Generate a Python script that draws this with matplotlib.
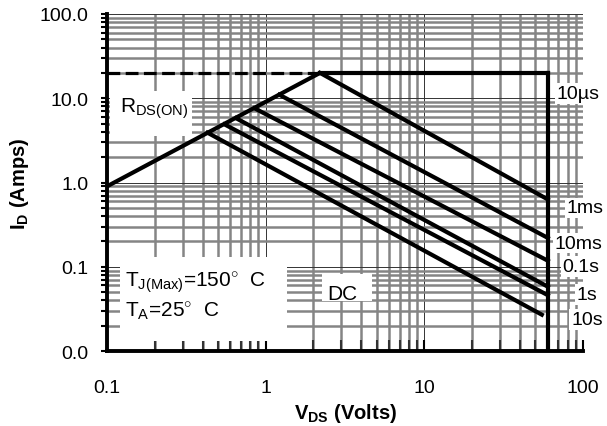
import matplotlib
matplotlib.use("Agg")
import matplotlib.pyplot as plt
import matplotlib.patches as patches
from matplotlib.ticker import LogLocator, NullFormatter

plt.rcParams['font.family'] = ['Liberation Sans', 'DejaVu Sans']
plt.rcParams['mathtext.fontset'] = 'custom'
plt.rcParams['mathtext.rm'] = 'Liberation Sans'
plt.rcParams['mathtext.it'] = 'Liberation Sans:italic'
plt.rcParams['mathtext.bf'] = 'Liberation Sans:bold'

# RDS(ON) limit line and the current / voltage limits
rds_v = [0.1, 2.2]
rds_i = [0.9, 20.0]
i_max = 20.0
v_max = 60.0
v_min, v_top = 0.1, 100.0
i_bottom = 0.01

# descending pulse lines: start on the RDS line, end at Vmax
pulse_v0 = [2.2, 1.22, 0.85, 0.65, 0.55, 0.43]
pulse_i0 = [20.0, 11.0, 7.6, 5.8, 4.9, 3.9]
pulse_v1 = [60.0, 60.0, 60.0, 60.0, 60.0, 55.0]
pulse_i1 = [0.63, 0.22, 0.118, 0.058, 0.046, 0.027]

# curve labels (right side), baseline positions
label_txt = ['10\u00b5s', '1ms', '10ms', '0.1s', '1s', '10s']
label_v = [68.5, 79.0, 66.0, 74.0, 91.6, 84.0]
label_i = [10.1, 0.441, 0.169, 0.0886, 0.0412, 0.0209]

ytick_vals = [0.01, 0.1, 1, 10, 100]
ytick_lbls = ['0.0', '0.1', '1.0', '10.0', '100.0']
xtick_vals = [0.1, 1, 10, 100]
xtick_lbls = ['0.1', '1', '10', '100']

fig = plt.figure(figsize=(6.07, 4.27), dpi=100)
ax = fig.add_axes([0.1763, 0.1756, 0.7842, 0.7893])
ax.set_xscale('log')
ax.set_yscale('log')
ax.set_xlim(v_min, v_top)
ax.set_ylim(i_bottom, v_top)

ax.xaxis.set_minor_locator(LogLocator(base=10, subs=range(2, 10)))
ax.yaxis.set_minor_locator(LogLocator(base=10, subs=range(2, 10)))
ax.xaxis.set_minor_formatter(NullFormatter())
ax.yaxis.set_minor_formatter(NullFormatter())
ax.grid(which='minor', color='#858585', lw=1.8, zorder=0)
ax.grid(which='major', color='#333333', lw=0.7, zorder=0)
ax.set_axisbelow(True)

ax.set_yticks(ytick_vals)
ax.set_yticklabels(ytick_lbls, fontsize=14)
ax.set_xticks(xtick_vals)
ax.set_xticklabels(xtick_lbls, fontsize=14)
ax.tick_params(axis='y', which='both', direction='out', length=4, width=1.5, pad=9.5)
ax.tick_params(axis='x', which='major', direction='in', length=8, width=1.5, pad=20)
ax.tick_params(axis='x', which='minor', direction='in', length=8, width=1.5, color='#333333')

for s in ['top', 'right']:
    ax.spines[s].set_visible(False)
for s in ['left', 'bottom']:
    ax.spines[s].set_linewidth(2.8)
    ax.spines[s].set_zorder(5)

# white label boxes covering the grid
for (x0, y0, w, h) in [(0.006, 0.638, 0.173, 0.134),
                       (0.027, 0.03, 0.351, 0.249),
                       (0.452, 0.148, 0.105, 0.08)]:
    ax.add_patch(patches.Rectangle((x0, y0), w, h, transform=ax.transAxes,
                                   facecolor='white', edgecolor='none', zorder=1))

lw = 3.0
ax.plot(rds_v, rds_i, color='black', lw=lw, zorder=3, solid_capstyle='butt')
ax.plot([v_min, rds_v[1]], [i_max, i_max], color='black', lw=2.3,
        dashes=(4, 1.7), zorder=3)
ax.plot([rds_v[1], v_max], [i_max, i_max], color='black', lw=lw, zorder=3)
ax.plot([v_max, v_max], [i_max, i_bottom], color='black', lw=lw, zorder=3)
for a, b, c, d in zip(pulse_v0, pulse_i0, pulse_v1, pulse_i1):
    ax.plot([a, c], [b, d], color='black', lw=lw, zorder=3)

for t, v, i in zip(label_txt, label_v, label_i):
    ax.text(v, i, t, fontsize=14, va='baseline', ha='left', clip_on=False, zorder=4,
            bbox=dict(facecolor='white', edgecolor='none', pad=1.2))

ax.text(0.027, 0.709, r'R$_{\mathrm{DS(ON)}}$', transform=ax.transAxes,
        fontsize=15, va='baseline', zorder=4)
ax.text(0.038, 0.193, r'T$_{\mathrm{J(Max)}}$=150$^{\circ}$  C', transform=ax.transAxes,
        fontsize=15, va='baseline', zorder=4)
ax.text(0.038, 0.104, r'T$_{\mathrm{A}}$=25$^{\circ}$  C', transform=ax.transAxes,
        fontsize=15, va='baseline', zorder=4)
ax.text(2.43, 0.0412, 'DC', fontsize=15, va='baseline', ha='left', zorder=4)

ax.set_ylabel(r'$\mathbf{I_D}$ (Amps)', fontsize=14.5, fontweight='bold', labelpad=6)
ax.set_xlabel(r'$\mathbf{V_{DS}}$ (Volts)', fontsize=14.5, fontweight='bold', labelpad=4)

fig.savefig('out.png', dpi=100)
